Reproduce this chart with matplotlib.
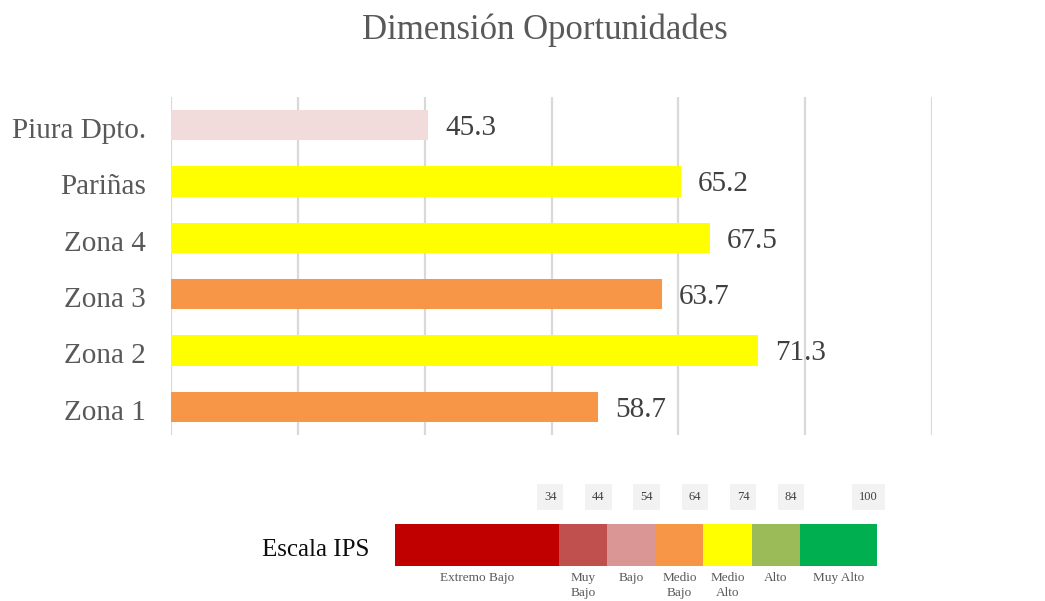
import matplotlib
matplotlib.use("Agg")
import matplotlib.pyplot as plt
import matplotlib.transforms as mtransforms

categories = ["Zona 1", "Zona 2", "Zona 3", "Zona 4", "Pariñas", "Piura Dpto."]
values = [58.7, 71.3, 63.7, 67.5, 65.2, 45.3]
bar_colors = ["#F79646", "#FFFF00", "#F79646", "#FFFF00", "#FFFF00", "#F2DCDB"]

scale_names = ["Extremo Bajo", "Muy\nBajo", "Bajo", "Medio\nBajo", "Medio\nAlto", "Alto", "Muy Alto"]
scale_bounds = [0, 34, 44, 54, 64, 74, 84, 100]
scale_colors = ["#C00000", "#C0504D", "#D99694", "#F79646", "#FFFF00", "#9BBB59", "#00B050"]

serif = ["Liberation Serif", "DejaVu Serif"]
W, H = 1045, 601
fig = plt.figure(figsize=(W / 100, H / 100), dpi=100)
fig.patch.set_facecolor("white")

# main chart
ax = fig.add_axes([171 / W, 1 - 435 / H, (932 - 171) / W, (435 - 97) / H])
ypos = list(range(len(categories)))
ax.barh(ypos, values, height=0.54, color=bar_colors, zorder=3)
ax.set_xlim(25, 85)
ax.set_ylim(-0.5, len(categories) - 0.5)
ax.set_xticks(range(25, 86, 10))
ax.set_xticklabels([])
ax.tick_params(axis="x", length=0)
ax.tick_params(axis="y", length=0, pad=18)
ax.grid(axis="x", color="#D9D9D9", linewidth=1.6, zorder=0)
ax.set_yticks(ypos)
ax.set_yticklabels(categories, fontsize=21, family=serif, color="#595959")
shift = mtransforms.ScaledTranslation(0, -2 / 72, fig.dpi_scale_trans)
for lbl in ax.get_yticklabels():
    lbl.set_transform(lbl.get_transform() + shift)
for s in ax.spines.values():
    s.set_visible(False)
for y, v in zip(ypos, values):
    ax.annotate(f"{v:.1f}", (v, y), xytext=(12, -2), textcoords="offset points",
                va="center", ha="left", fontsize=21, family=serif, color="#404040")

fig.text(545 / W, 1 - 30 / H, "Dimensión Oportunidades", ha="center", va="center",
         fontsize=25, family=serif, color="#595959")

# scale legend
lax = fig.add_axes([395 / W, 1 - 566 / H, 482 / W, 42 / H])
lax.set_xlim(0, 100)
lax.set_ylim(0, 1)
lax.axis("off")
lefts = scale_bounds[:-1]
widths = [b - a for a, b in zip(scale_bounds[:-1], scale_bounds[1:])]
lax.barh([0.5] * len(widths), widths, left=lefts, height=1.0, color=scale_colors)
for a, b, name in zip(scale_bounds[:-1], scale_bounds[1:], scale_names):
    lax.text((a + b) / 2, -0.15, name, ha="center", va="top", fontsize=9.5,
             family=serif, color="#595959", linespacing=1.35)
for b in scale_bounds[1:]:
    lax.text(b - 1.8, 1.64, str(b), ha="center", va="center", fontsize=9,
             family=serif, color="#404040",
             bbox=dict(boxstyle="square,pad=0.55", facecolor="#F2F2F2", edgecolor="none"))

fig.text(262 / W, 1 - 550 / H, "Escala IPS", ha="left", va="center",
         fontsize=18, family=serif, color="#0D0D0D")

fig.savefig("out.png", dpi=100, facecolor="white")
